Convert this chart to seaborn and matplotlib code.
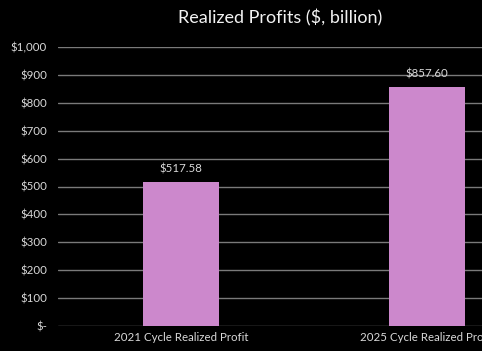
import seaborn as sns
import pandas as pd
from matplotlib import pyplot as plt
import matplotlib.ticker as mtick

categories = ['2021 Cycle Realized Profit', '2025 Cycle Realized Profit']
profits = [517.58, 857.60]
bar_labels = ['$517.58', '$857.60']
y_ticks = [0, 100, 200, 300, 400, 500, 600, 700, 800, 900, 1000]

sns.set_style('dark')
plt.rcParams['font.family'] = ['Lato', 'DejaVu Sans']

df = pd.DataFrame({'category': categories, 'profit': profits})

fig = plt.figure(figsize=(4.82, 3.51), dpi=100, facecolor='black')
ax = fig.add_axes([58 / 482, 25 / 351, 492 / 482, 279 / 351])
ax.set_facecolor('black')

sns.barplot(data=df, x='category', y='profit', color='#cc88cc', saturation=1,
            width=0.31, linewidth=0, edgecolor='none', ax=ax, zorder=3)

ax.set_xlim(-0.5, 1.5)
ax.set_ylim(0, 1000)
ax.set_yticks(y_ticks)
ax.yaxis.set_major_formatter(mtick.FuncFormatter(
    lambda v, p: '$-' if v == 0 else '${:,.0f}'.format(v)))
ax.grid(axis='y', color='#7a7a7a', linewidth=1, zorder=0)
ax.grid(axis='x', visible=False)
for s in ax.spines.values():
    s.set_visible(False)
ax.tick_params(axis='both', length=0, colors='#d9d9d9', labelsize=8.3)
ax.tick_params(axis='y', pad=8)
ax.tick_params(axis='x', pad=4)
ax.set_xlabel('')
ax.set_ylabel('')

for i, (v, lab) in enumerate(zip(profits, bar_labels)):
    ax.annotate(lab, (i, v), xytext=(0, 5), textcoords='offset points',
                ha='center', va='bottom', color='#d9d9d9', fontsize=8.3)

fig.text(280 / 482, 1 - 18 / 351, 'Realized Profits ($, billion)', ha='center',
         va='center', color='#f2f2f2', fontsize=13)

fig.savefig('out.png', dpi=100, facecolor='black')
